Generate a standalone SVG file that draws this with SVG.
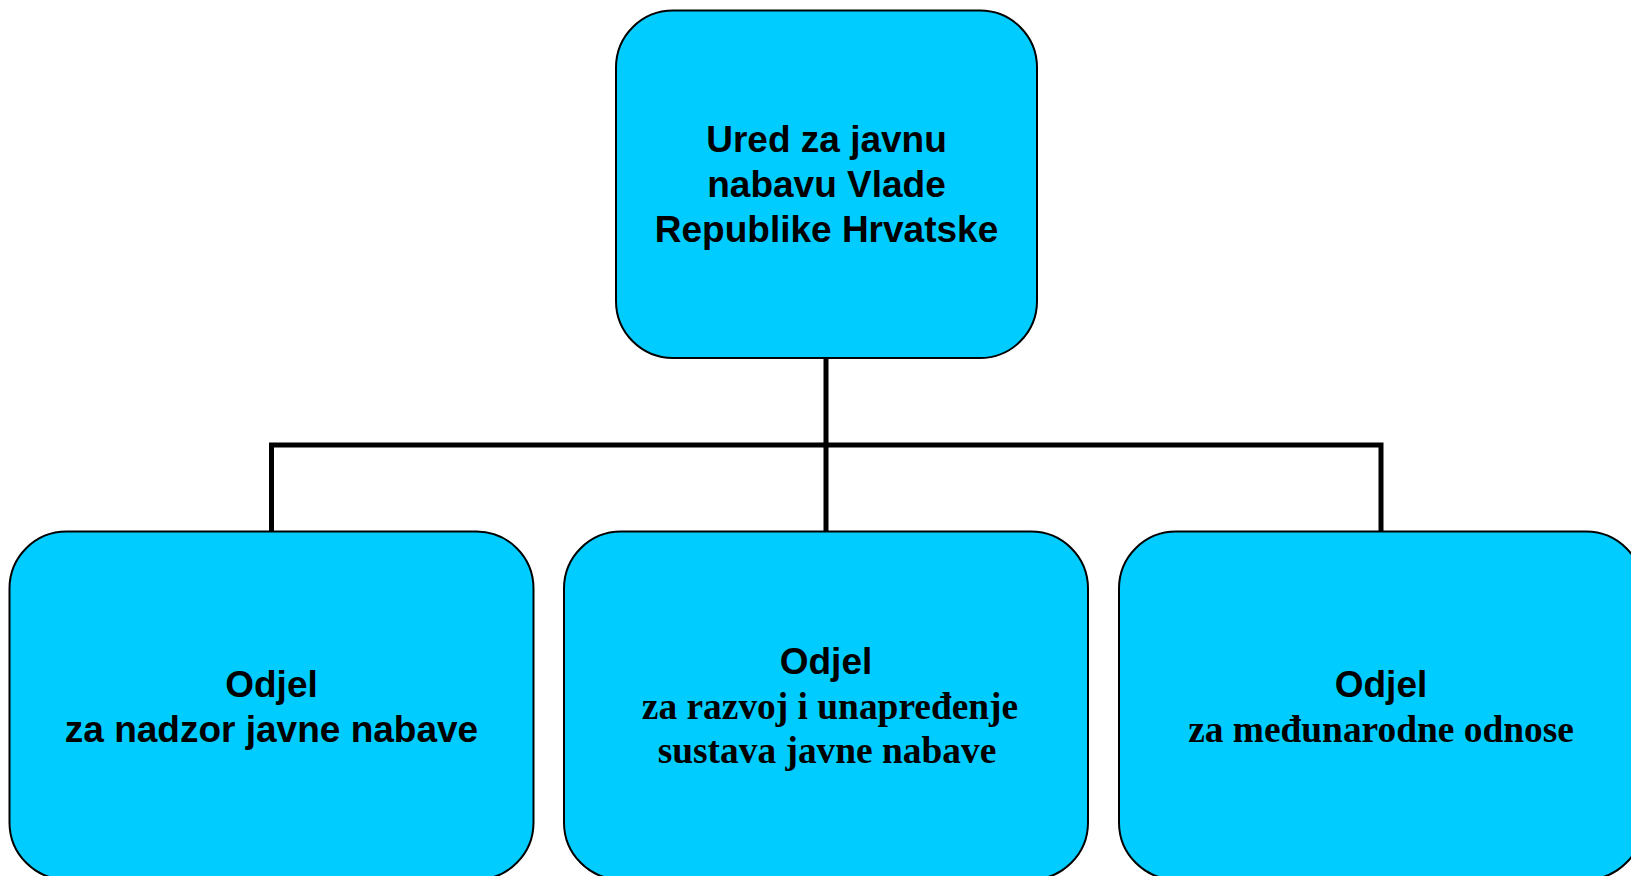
<svg xmlns="http://www.w3.org/2000/svg" width="1631" height="876" viewBox="0 0 1631 876">
<style>
.box{fill:#00CCFF;stroke:#000;stroke-width:2}
.conn{fill:none;stroke:#000;stroke-width:5;stroke-linecap:square}
.sans{font-family:"Liberation Sans",Arial,sans-serif;font-weight:bold;font-size:37px;text-anchor:middle;fill:#000}
.serif{font-family:"Liberation Serif","Times New Roman",serif;font-weight:bold;font-size:37.4px;text-anchor:middle;fill:#000}
</style>
<rect width="1631" height="876" fill="#fff"/>
<g id="connectors">
<path class="conn" d="M826 358 V445"/>
<path class="conn" d="M271.5 531 V445 H1381 V531"/>
<path class="conn" d="M826 445 V531"/>
</g>
<g id="node-ured">
<rect class="box" x="616" y="10.5" width="421" height="347.5" rx="57" ry="57"/>
<text class="sans" x="826.5" y="152">Ured za javnu</text>
<text class="sans" x="826.5" y="197">nabavu Vlade</text>
<text class="sans" x="826.5" y="242">Republike Hrvatske</text>
</g>
<g id="node-nadzor">
<rect class="box" x="9.5" y="531.5" width="524" height="348" rx="57" ry="57"/>
<text class="sans" x="271.5" y="697">Odjel</text>
<text class="sans" x="271.5" y="741.5">za nadzor javne nabave</text>
</g>
<g id="node-razvoj">
<rect class="box" x="564" y="531.5" width="524" height="348" rx="57" ry="57"/>
<text class="sans" x="826" y="674">Odjel</text>
<text class="serif" x="830" y="719">za razvoj i unapređenje</text>
<text class="serif" x="827" y="763">sustava javne nabave</text>
</g>
<g id="node-medunarodni">
<rect class="box" x="1119" y="531.5" width="524" height="348" rx="57" ry="57"/>
<text class="sans" x="1381" y="697">Odjel</text>
<text class="serif" x="1381" y="741.5">za međunarodne odnose</text>
</g>
</svg>
